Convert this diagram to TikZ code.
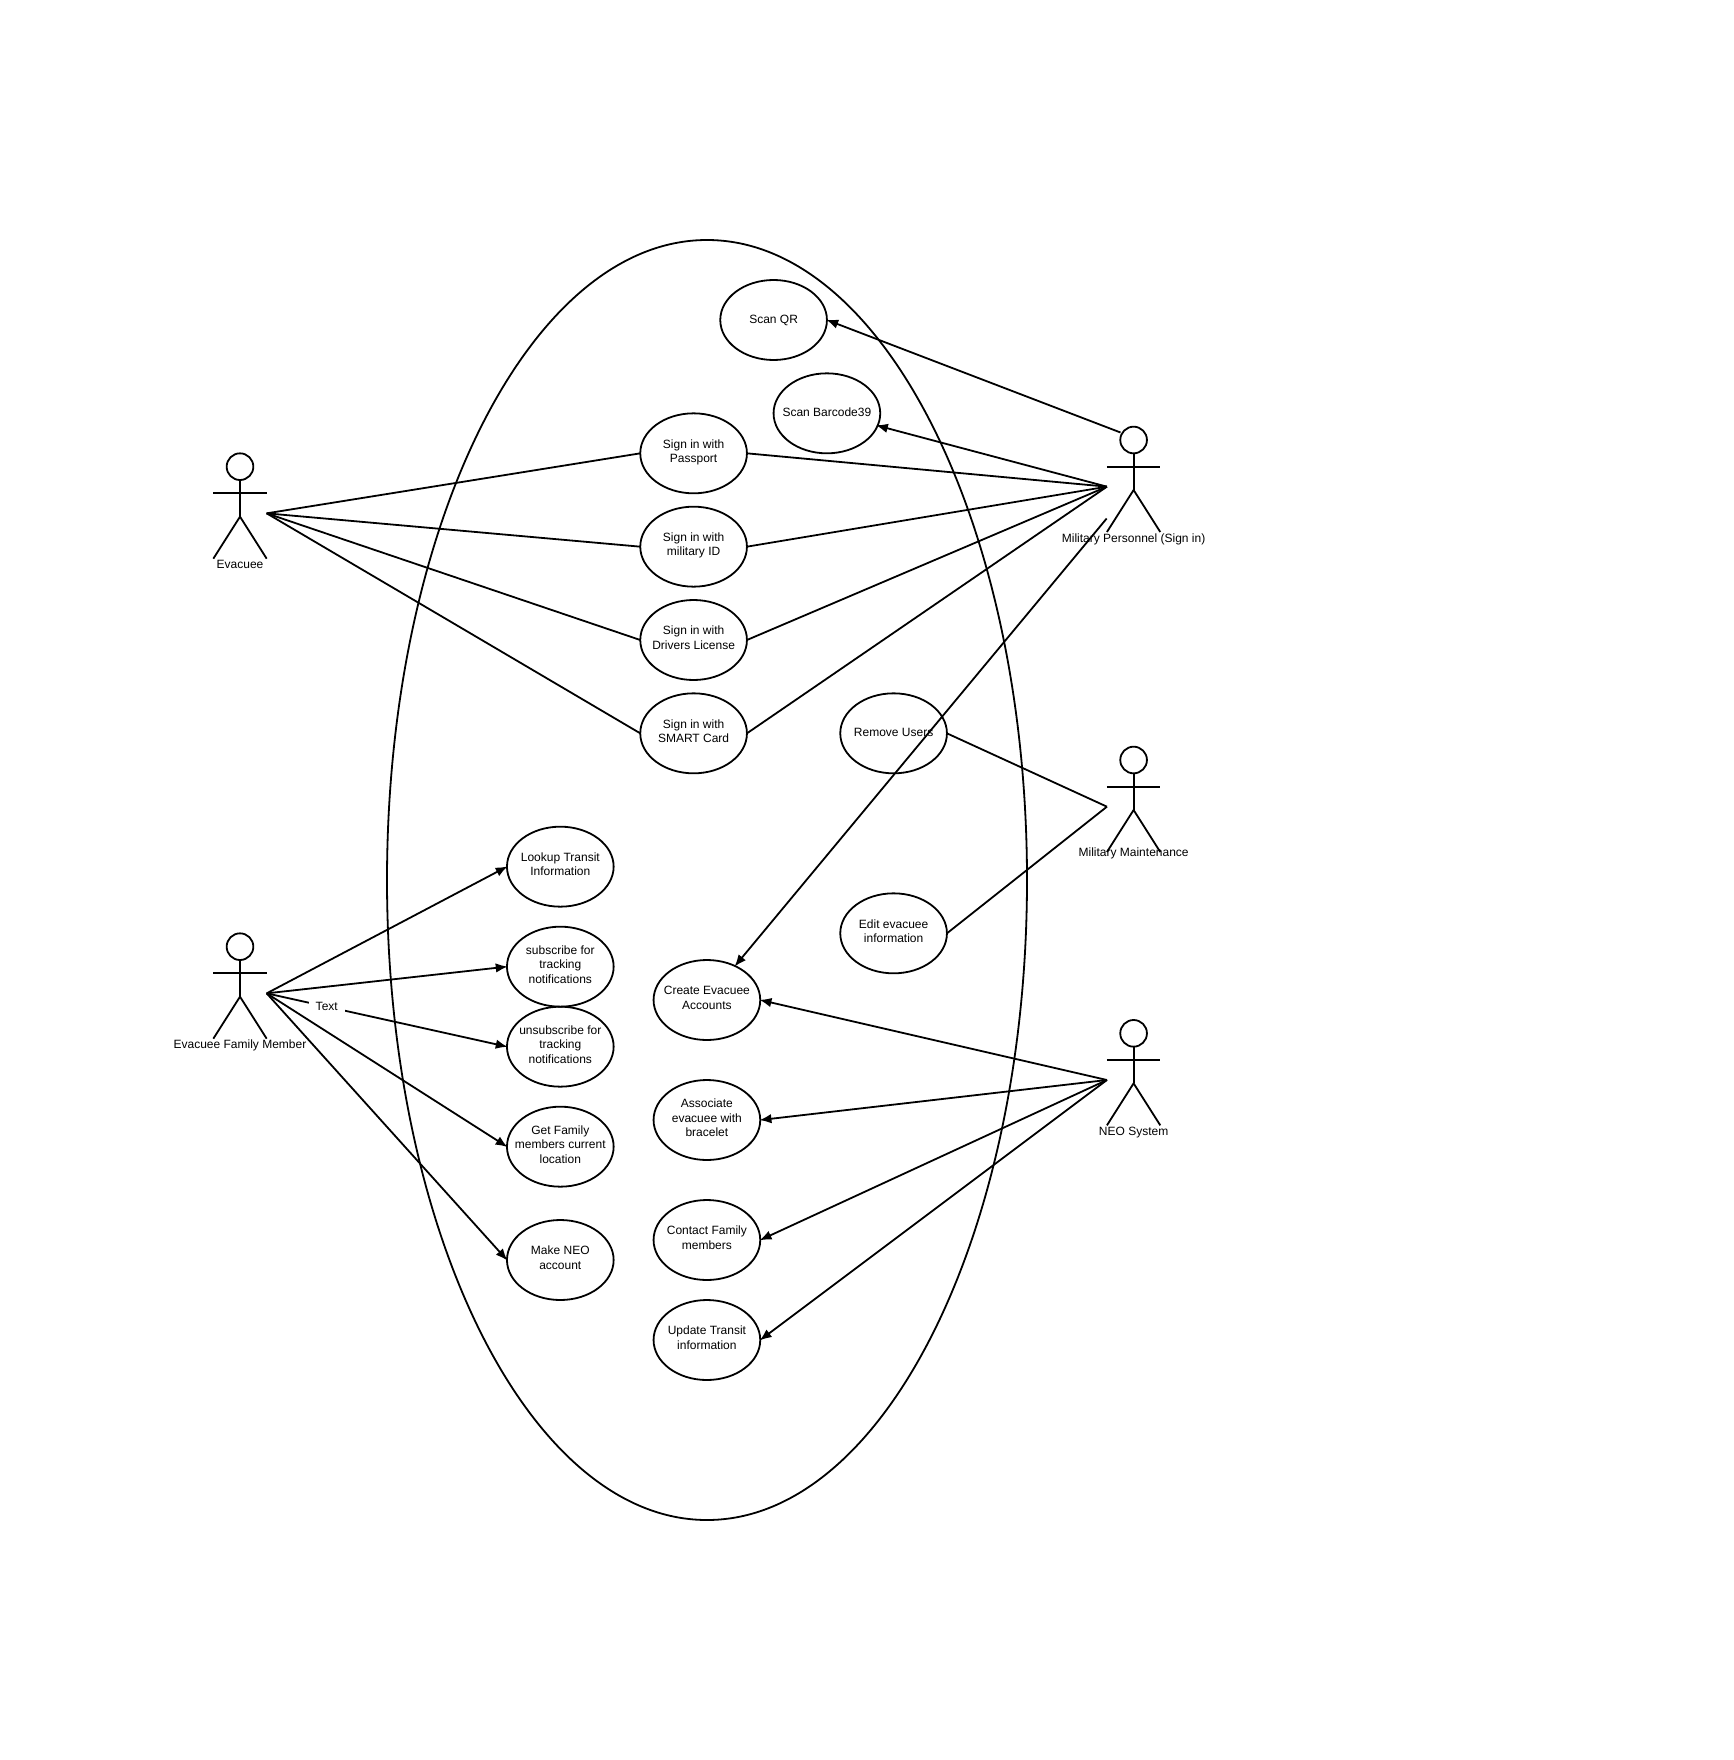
\documentclass[tikz,border=0pt]{standalone}
\usepackage{fontspec}
\setmainfont{Liberation Sans}
\usetikzlibrary{shapes.geometric,arrows.meta}
\tikzset{
  usecase/.style={ellipse,draw,line width=1.8pt,minimum width=106.67pt,minimum height=80pt,
    inner xsep=-25pt,inner ysep=-15pt,outer sep=0pt,align=center,font=\fontsize{12}{14.33}\selectfont,
    execute at begin node={\rule{0pt}{11pt}},execute at end node={\rule[-4.5pt]{0pt}{0pt}}},
  actorhead/.style={circle,draw,line width=1.8pt,minimum size=26.67pt,inner sep=0pt,outer sep=0pt},
  actorname/.style={inner sep=0pt,text height=11pt,text depth=6pt,font=\fontsize{12}{14.33}\selectfont},
  link/.style={line width=1.8pt},
  callto/.style={line width=1.8pt,-{Latex[length=12pt,width=9.5pt]},shorten >=-0.8pt}
}
% head, arms, legs, the name under the feet, and the point (#2hand) the lines leave from
\newcommand{\stickman}[5][99.8]{
  \node[actorhead] (#2) at (#3,#4) {};
  \node[actorname] (#2name) at (#3,#4+#1) {#5};
  \coordinate (#2neck) at (#3,#4+50);
  \coordinate (#2hand) at (#3-26.67,#4+46.67);
  \coordinate (#2rhand) at (#3+26.67,#4+46.67);
  \draw[link] (#2) -- (#2neck);
  \draw[link] (#3-26.67,#4+26.67) -- (#3+26.67,#4+26.67);
  \draw[link] (#3-26.67,#4+92) -- (#2neck) -- (#3+26.67,#4+92);
}
\begin{document}
\begin{tikzpicture}[x=1pt,y=-1pt]
      \useasboundingbox (0,0) rectangle (1733,1760);
      \node[ellipse,draw,line width=1.8pt,minimum width=640pt,minimum height=1280pt,inner sep=0pt] (system) at (707,880) {};
      \stickman{evacuee}{240}{466.67}{Evacuee}
      \stickman{family}{240}{946.67}{Evacuee Family Member}
      \stickman{military}{1133.6}{440}{Military Personnel (Sign in)}
      \stickman[93.6]{maintenance}{1133.6}{760}{Military Maintenance}
      \stickman{neo}{1133.6}{1033.33}{NEO System}
      \node[usecase] (qr) at (773.6,320) {Scan QR};
      \node[usecase] (barcode) at (826.9,413.33) {Scan Barcode39};
      \node[usecase] (passport) at (693.6,453.33) {Sign in with\\Passport};
      \node[usecase] (milid) at (693.6,546.67) {Sign in with\\military ID};
      \node[usecase] (license) at (693.6,640) {Sign in with\\Drivers License};
      \node[usecase] (smart) at (693.6,733.33) {Sign in with\\SMART Card};
      \node[usecase] (remove) at (893.6,733.33) {Remove Users};
      \node[usecase] (edit) at (893.6,933.33) {Edit evacuee\\information};
      \node[usecase] (lookup) at (560.3,866.67) {Lookup Transit\\Information};
      \node[usecase] (subscribe) at (560.3,966.67) {subscribe for\\tracking\\notifications};
      \node[usecase] (unsubscribe) at (560.3,1046.67) {unsubscribe for\\tracking\\notifications};
      \node[usecase] (location) at (560.3,1146.67) {Get Family\\members current\\location};
      \node[usecase] (account) at (560.3,1260) {Make NEO\\account};
      \node[usecase] (create) at (706.9,1000) {Create Evacuee\\Accounts};
      \node[usecase] (bracelet) at (706.9,1120) {Associate\\evacuee with\\bracelet};
      \node[usecase] (contact) at (706.9,1240) {Contact Family\\members};
      \node[usecase] (transit) at (706.9,1340) {Update Transit\\information};
      \coordinate (headside) at (1120.5,432.5);
      \coordinate (barcodeside) at (876.6,425.4);
      \coordinate (militaryfree) at (1106.67,518.5);
      \coordinate (createtop) at (735,966);
      \begin{scope}[link]
        \draw (evacueerhand) to (passport.west);
        \draw (evacueerhand) to (milid.west);
        \draw (evacueerhand) to (license.west);
        \draw (evacueerhand) to (smart.west);
        \draw (militaryhand) to (passport.east);
        \draw (militaryhand) to (milid.east);
        \draw (militaryhand) to (license.east);
        \draw (militaryhand) to (smart.east);
        \draw (maintenancehand) to (remove.east);
        \draw (maintenancehand) to (edit.east);
      \end{scope}
      \begin{scope}[callto]
        \draw (headside) to (qr.east);
        \draw (militaryhand) to (barcodeside);
        \draw (militaryfree) to (createtop);
        \draw (familyrhand) to (lookup.west);
        \draw (familyrhand) to (subscribe.west);
        \draw (familyrhand) to node[pos=0.25,fill=white,inner xsep=7pt,inner ysep=3pt,font=\fontsize{12}{14.33}\selectfont] (textlabel) {Text} (unsubscribe.west);
        \draw (familyrhand) to (location.west);
        \draw (familyrhand) to (account.west);
        \draw (neohand) to (create.east);
        \draw (neohand) to (bracelet.east);
        \draw (neohand) to (contact.east);
        \draw (neohand) to (transit.east);
      \end{scope}
    \end{tikzpicture}
\end{document}
